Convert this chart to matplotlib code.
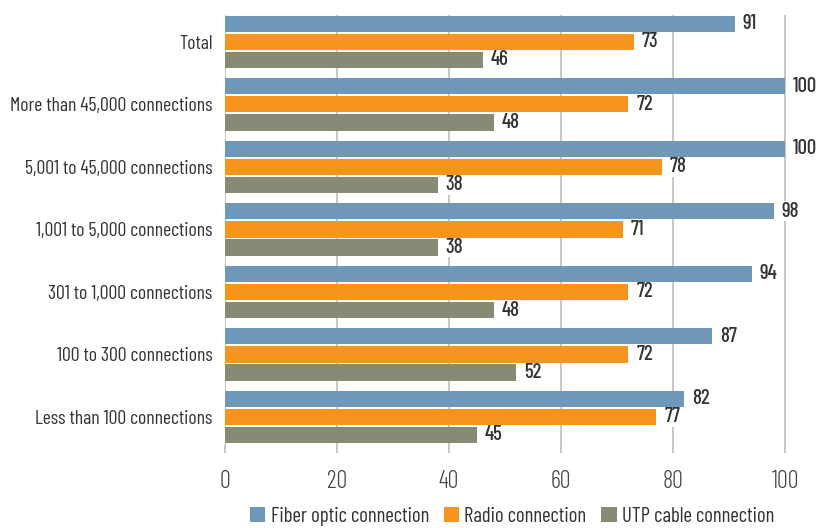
import matplotlib
matplotlib.use("Agg")
import matplotlib.pyplot as plt
from matplotlib import font_manager
import numpy as np

categories = ["Total", "More than 45,000 connections", "5,001 to 45,000 connections",
              "1,001 to 5,000 connections", "301 to 1,000 connections",
              "100 to 300 connections", "Less than 100 connections"]
series_names = ["Fiber optic connection", "Radio connection", "UTP cable connection"]
fiber = [91, 100, 100, 98, 94, 87, 82]
radio = [73, 72, 78, 71, 72, 72, 77]
utp = [46, 48, 38, 38, 48, 52, 45]
colors = ["#6E97B8", "#F7941D", "#878A74"]
xticks = [0, 20, 40, 60, 80, 100]

avail = {f.name for f in font_manager.fontManager.ttflist}
fam = "Barlow Condensed" if "Barlow Condensed" in avail else "DejaVu Sans"
plt.rcParams["font.family"] = [fam, "DejaVu Sans"]
txt = "#333333"

fig = plt.figure(figsize=(8.24, 5.28), dpi=100)
ax = fig.add_axes([225/824, 1-445/528, (788-225)/824, (445-15)/528])

y = np.arange(len(categories))
off = 0.29
h = 0.26
for k, vals in enumerate([fiber, radio, utp]):
    pos = y + (k-1)*off
    ax.barh(pos, vals, height=h, color=colors[k], label=series_names[k], zorder=2)
    for p, v in zip(pos, vals):
        ax.text(v + 1.4, p, str(v), va="center", ha="left", fontsize=15,
                fontweight=500, color=txt, zorder=4,
                bbox=dict(facecolor="white", edgecolor="none", pad=0.3))

ax.set_ylim(len(categories)-1+0.45, -0.43)
ax.set_xlim(0, 100.5)
ax.set_xticks(xticks)
ax.set_xticklabels([str(t) for t in xticks], fontsize=17.5, color="#444444", fontweight=300)
ax.set_yticks(y)
ax.set_yticklabels(categories, fontsize=14.2, color=txt)
ax.tick_params(axis="y", length=0, pad=9)
ax.tick_params(axis="x", length=6, color="#c8c8c8", width=1.5, pad=12)
ax.grid(axis="x", color="#c8c8c8", linewidth=1.5, zorder=0)
for s in ax.spines.values():
    s.set_visible(False)

leg = fig.legend(loc="center", bbox_to_anchor=(512/824, 12/528), ncol=3, frameon=False,
                 fontsize=15, handlelength=0.75, handleheight=0.75, handletextpad=0.25,
                 columnspacing=0.7, labelcolor=txt)
fig.savefig("out.png", dpi=100)
